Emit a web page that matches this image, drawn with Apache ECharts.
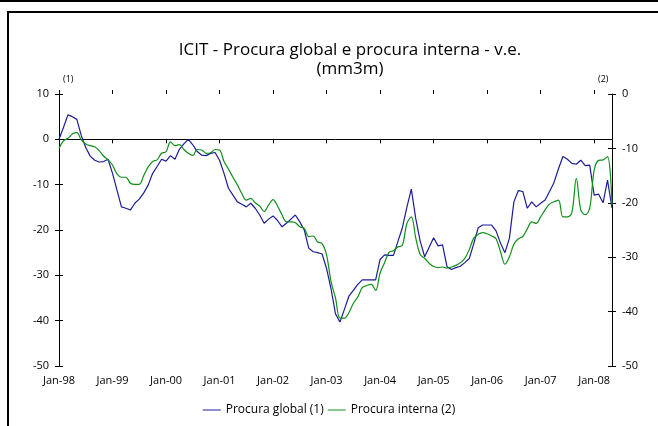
<!DOCTYPE html>
<html>
<head>
<meta charset="utf-8">
<script src="https://cdn.jsdelivr.net/npm/echarts@6/dist/echarts.min.js"></script>
<style>
  html, body { margin: 0; padding: 0; background: #fff; }
  #chart { width: 658px; height: 426px; }
</style>
</head>
<body>
<div id="chart"></div>
<script>
  // meses Jan-98 .. May-08
  var years = ['98','99','00','01','02','03','04','05','06','07','08'];
  var monthNames = ['Jan','Feb','Mar','Apr','May','Jun','Jul','Aug','Sep','Oct','Nov','Dec'];
  var months = [];
  years.forEach(function (y) {
    monthNames.forEach(function (m) {
      if (months.length < 125) months.push(m + '-' + y);
    });
  });

  // Procura global (1) - eixo esquerdo
  var procuraGlobal = [
    0, 2.6, 5.4, 5.0, 4.4, 0.8, -1.8, -3.7, -4.6, -5.0, -4.9, -4.4,
    -7.5, -11.2, -14.9, -15.2, -15.6, -14.1, -13.2, -11.8, -10.1, -7.5, -6.0, -4.4,
    -4.8, -3.6, -4.4, -2.2, -1.0, 0, -1.2, -2.7, -3.5, -3.6, -3.1, -2.9,
    -4.6, -7.5, -10.8, -12.3, -13.8, -14.3, -14.9, -14.1, -15.2, -16.7, -18.5, -17.6,
    -16.9, -17.9, -19.3, -18.5, -17.6, -16.7, -18.2, -20.0, -24.0, -24.8, -25.0, -25.3,
    -28.5, -33.0, -38.5, -40.3, -37.5, -34.6, -33.3, -32.0, -31.0, -31.0, -31.0, -31.0,
    -26.5, -25.5, -25.6, -25.6, -22.5, -19.5, -15.0, -11.0, -17.5, -22.5, -25.9, -23.8,
    -21.7, -23.5, -23.3, -28.1, -28.7, -28.3, -28.0, -27.2, -26.3, -23.0, -19.5, -18.9,
    -18.9, -18.9, -20.2, -22.9, -25.0, -21.8, -13.8, -11.3, -11.5, -15.2, -13.8, -14.9,
    -14.1, -13.4, -11.5, -9.5, -6.5, -3.8, -4.4, -5.3, -5.5, -4.6, -5.8, -5.7,
    -12.3, -12.1, -14.0, -9.0, -15.2
  ];

  // Procura interna (2) - eixo direito
  var procuraInterna = [
    -10.0, -8.6, -8.15, -7.35, -7.1, -8.45, -9.2, -9.5, -9.7, -10.4, -11.4, -12.1,
    -13.05, -14.7, -15.3, -15.3, -16.4, -16.6, -16.6, -15.0, -13.4, -12.4, -12.1, -10.9,
    -10.6, -8.8, -9.5, -9.3, -10.2, -10.9, -11.3, -10.2, -10.3, -10.9, -10.8, -10.2,
    -10.3, -12.4, -13.8, -15.3, -16.7, -18.3, -19.5, -19.2, -20.0, -20.6, -21.6, -20.4,
    -19.4, -20.6, -22.2, -23.5, -23.5, -23.65, -24.4, -24.7, -26.2, -26.1, -27.2, -27.5,
    -29.6, -34.5, -37.5, -41.2, -41.2, -40.2, -38.5, -37.3, -35.6, -35.2, -35.0, -36.1,
    -32.9, -31.0, -29.1, -28.8, -28.1, -27.8, -23.8, -22.6, -26.5, -29.5, -30.2, -31.1,
    -31.7, -31.9, -31.8, -32.0, -31.8, -31.5, -31.0, -30.2, -28.6, -26.5, -25.8, -25.5,
    -25.7, -26.1, -26.6, -29.0, -31.3, -29.9, -27.6, -26.6, -26.2, -24.8, -23.5, -23.8,
    -22.6, -21.3, -20.2, -19.8, -19.5, -22.6, -22.6, -21.8, -15.5, -21.3, -22.2, -21.0,
    -14.0, -12.2, -12.1, -11.5, -20.4
  ];

  var fontFam = '"Open Sans", sans-serif';
  var isJan = function (idx) { return idx % 12 === 0; };

  var myChart = echarts.init(document.getElementById('chart'));
  var option = {
    animation: false,
    backgroundColor: '#fff',
    title: {
      text: 'ICIT - Procura global e procura interna - v.e.\n(mm3m)',
      left: 345,
      textAlign: 'center',
      top: 36,
      textStyle: { fontFamily: fontFam, fontSize: 17, fontWeight: 'normal', color: '#000', lineHeight: 19 }
    },
    legend: {
      top: 399,
      left: 'center',
      itemWidth: 18,
      itemHeight: 1,
      itemGap: 4,
      icon: 'rect',
      textStyle: { fontFamily: fontFam, fontSize: 12, color: '#000' },
      data: ['Procura global (1)', 'Procura interna (2)']
    },
    graphic: [
      { type: 'rect', shape: { x: 0, y: 0, width: 658, height: 2 }, style: { fill: '#000' } },
      { type: 'rect', shape: { x: 7, y: 11, width: 651, height: 2 }, style: { fill: '#000' } },
      { type: 'rect', shape: { x: 7, y: 11, width: 2, height: 415 }, style: { fill: '#000' } },
      { type: 'text', left: 63, top: 75, style: { text: '(1)', font: '9px ' + fontFam, fill: '#000' } },
      { type: 'text', left: 598, top: 75, style: { text: '(2)', font: '9px ' + fontFam, fill: '#000' } }
    ],
    grid: { left: 59, right: 46, top: 94, bottom: 60 },
    xAxis: [{
      type: 'category',
      data: months,
      boundaryGap: false,
      axisLine: { lineStyle: { color: '#000', width: 1 } },
      axisTick: { interval: isJan, length: 4, lineStyle: { color: '#000' } },
      axisLabel: { interval: isJan, margin: 9, color: '#000', fontFamily: fontFam, fontSize: 11 },
      splitLine: { show: false }
    }, {
      type: 'category',
      data: months,
      boundaryGap: false,
      position: 'bottom',
      axisLine: { show: false },
      axisTick: { interval: isJan, inside: true, length: 4, lineStyle: { color: '#000' } },
      axisLabel: { show: false },
      splitLine: { show: false }
    }],
    yAxis: [{
      type: 'value', position: 'left', min: -50, max: 10, interval: 10,
      axisLine: { show: true, lineStyle: { color: '#000', width: 1 } },
      axisTick: { show: true, length: 4, lineStyle: { color: '#000' } },
      axisLabel: { margin: 10, color: '#000', fontFamily: fontFam, fontSize: 11 },
      splitLine: { show: false }
    }, {
      type: 'value', position: 'right', min: -50, max: 0, interval: 10,
      axisLine: { show: true, lineStyle: { color: '#000', width: 1 } },
      axisTick: { show: true, length: 4, lineStyle: { color: '#000' } },
      axisLabel: { margin: 10, color: '#000', fontFamily: fontFam, fontSize: 11 },
      splitLine: { show: false }
    }, {
      type: 'value', position: 'left', min: -50, max: 10, interval: 10,
      axisLine: { show: false },
      axisTick: { show: true, inside: true, length: 4, lineStyle: { color: '#000' } },
      axisLabel: { show: false },
      splitLine: { show: false }
    }, {
      type: 'value', position: 'right', min: -50, max: 0, interval: 10,
      axisLine: { show: false },
      axisTick: { show: true, inside: true, length: 4, lineStyle: { color: '#000' } },
      axisLabel: { show: false },
      splitLine: { show: false }
    }],
    series: [{
      name: 'Procura global (1)',
      type: 'line',
      xAxisIndex: 0,
      yAxisIndex: 0,
      data: procuraGlobal,
      showSymbol: false,
      color: '#1c1c96',
      lineStyle: { width: 1.2, color: '#1c1c96' }
    }, {
      name: 'Procura interna (2)',
      type: 'line',
      xAxisIndex: 0,
      yAxisIndex: 1,
      data: procuraInterna,
      showSymbol: false,
      smooth: 0.35,
      color: '#11901a',
      lineStyle: { width: 1.2, color: '#11901a' }
    }]
  };
  myChart.setOption(option);
</script>
</body>
</html>
